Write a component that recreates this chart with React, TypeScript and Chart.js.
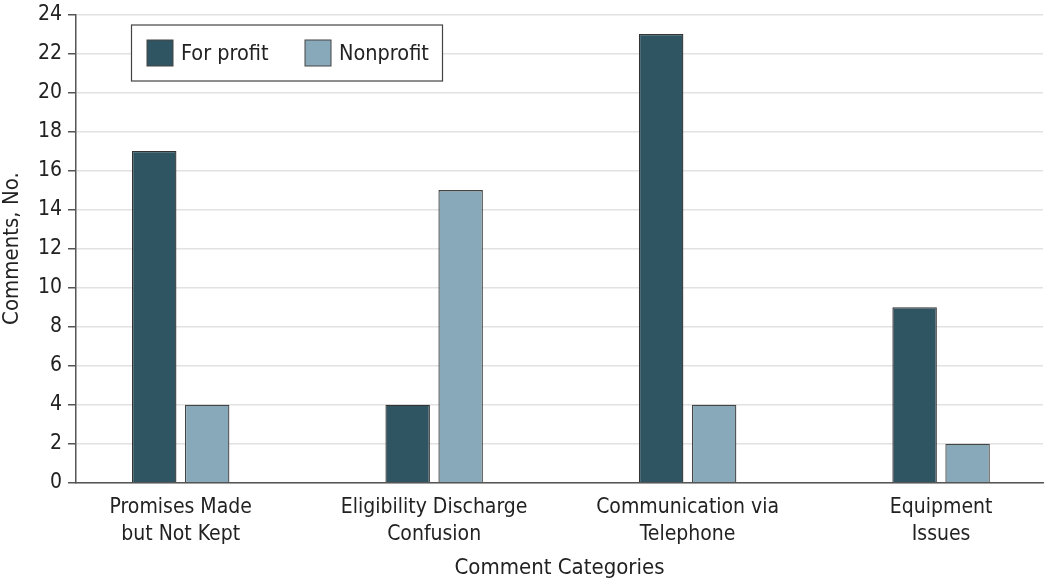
import React, { useEffect, useRef } from "react";
import { Chart, registerables } from "chart.js";

Chart.register(...registerables);

const CATEGORIES: string[][] = [
  ["Promises Made", "but Not Kept"],
  ["Eligibility Discharge", "Confusion"],
  ["Communication via", "Telephone"],
  ["Equipment", "Issues"],
];
const SERIES_NAMES = ["For profit", "Nonprofit"];
const FOR_PROFIT = [17, 4, 23, 9];
const NONPROFIT = [4, 15, 4, 2];
const Y_TICKS = [0, 2, 4, 6, 8, 10, 12, 14, 16, 18, 20, 22, 24];
const X_TITLE = "Comment Categories";
const Y_TITLE = "Comments, No.";

const COLORS = ["#2f5563", "#88a9b9"];
const FONT = "'DejaVu Sans Condensed', 'Liberation Sans Narrow', 'Noto Sans', sans-serif";
const TEXT = "#222222";

const legendPlugin = {
  id: "boxLegend",
  afterDraw(chart: any) {
    const { ctx, chartArea } = chart;
    const x0 = chartArea.left + 55.5;
    const y0 = chartArea.top + 10.5;
    const w = 311;
    const h = 56;
    ctx.save();
    ctx.fillStyle = "#ffffff";
    ctx.fillRect(x0, y0, w, h);
    ctx.strokeStyle = "#444444";
    ctx.lineWidth = 1.2;
    ctx.strokeRect(x0, y0, w, h);
    const items = chart.data.datasets;
    const offsets = [15.5, 173.5];
    ctx.font = `21.5px ${FONT}`;
    ctx.textBaseline = "middle";
    ctx.textAlign = "left";
    items.forEach((ds: any, i: number) => {
      const bx = x0 + offsets[i];
      const by = y0 + 15;
      ctx.fillStyle = ds.backgroundColor;
      ctx.fillRect(bx, by, 26, 26);
      ctx.strokeStyle = "#444444";
      ctx.lineWidth = 1;
      ctx.strokeRect(bx, by, 26, 26);
      ctx.fillStyle = TEXT;
      ctx.fillText(ds.label, bx + 34, by + 14);
    });
    ctx.restore();
  },
};

export default function App() {
  const ref = useRef<HTMLCanvasElement>(null);
  useEffect(() => {
    if (!ref.current) return;
    const toPoints = (arr: number[]) => arr.map((v, i) => ({ x: i, y: v }));
    const chart = new Chart(ref.current, {
      type: "bar",
      data: {
        datasets: [
          {
            label: SERIES_NAMES[0],
            data: toPoints(FOR_PROFIT),
            backgroundColor: COLORS[0],
            borderColor: "#333333",
            borderWidth: 1.3,
            barPercentage: 0.84,
            categoryPercentage: 0.418,
          },
          {
            label: SERIES_NAMES[1],
            data: toPoints(NONPROFIT),
            backgroundColor: COLORS[1],
            borderColor: "#444444",
            borderWidth: 1.3,
            barPercentage: 0.84,
            categoryPercentage: 0.418,
          },
        ],
      },
      options: {
        responsive: false,
        animation: false,
        layout: { padding: { top: 0, right: 7, left: 0, bottom: 0 } },
        plugins: {
          legend: { display: false },
          tooltip: { enabled: false },
        },
        scales: {
          x: {
            type: "linear",
            offset: false,
            min: -0.413,
            max: 3.402,
            afterBuildTicks: (scale: any) => {
              scale.ticks = CATEGORIES.map((_, i) => ({ value: i }));
            },
            afterFit: (scale: any) => {
              scale.height = 101.3;
            },
            grid: { display: false, drawTicks: false },
            border: { display: true, color: "#555555", width: 1.5 },
            ticks: {
              autoSkip: false,
              maxRotation: 0,
              padding: 12,
              color: TEXT,
              font: { family: FONT, size: 21, lineHeight: 1.25 },
              callback: (v: any) => CATEGORIES[v as number] ?? "",
            },
            title: {
              display: true,
              text: X_TITLE,
              color: TEXT,
              font: { family: FONT, size: 22, lineHeight: 1.2 },
              padding: { top: 3, bottom: 3 },
            },
          },
          y: {
            min: 0,
            max: 24,
            afterBuildTicks: (scale: any) => {
              scale.ticks = Y_TICKS.map((v) => ({ value: v }));
            },
            afterFit: (scale: any) => {
              scale.width = 76;
              scale.paddingTop = 14.5;
            },
            grid: {
              color: "#e2e2e2",
              lineWidth: 1.5,
              tickColor: "#555555",
              tickLength: 8,
              drawTicks: true,
            },
            border: { display: true, color: "#555555", width: 1.5 },
            ticks: {
              padding: 6,
              color: TEXT,
              font: { family: FONT, size: 21 },
            },
            title: {
              display: true,
              text: Y_TITLE,
              color: TEXT,
              font: { family: FONT, size: 22, lineHeight: 1.1 },
              padding: 0,
            },
          },
        },
      },
      plugins: [legendPlugin],
    } as any);
    return () => chart.destroy();
  }, []);
  return (
    <div style={{ position: "absolute", left: 0, top: 0, width: 1050, height: 584 }}>
      <canvas ref={ref} width={1050} height={584} style={{ display: "block" }} />
    </div>
  );
}
